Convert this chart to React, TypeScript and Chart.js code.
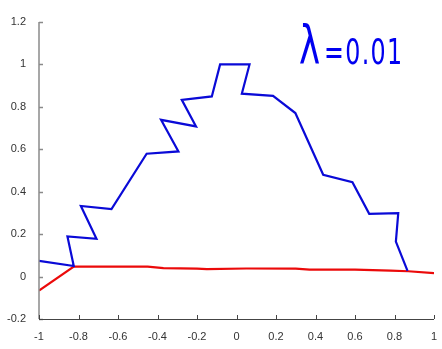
import React, { useEffect, useRef } from "react";
import { Chart, registerables } from "chart.js";

Chart.register(...registerables);

const blueX = [-1, -0.824, -0.856, -0.709, -0.788, -0.633, -0.455, -0.294, -0.382, -0.205, -0.277, -0.125, -0.083, 0.066, 0.027, 0.185, 0.298, 0.439, 0.587, 0.672, 0.819, 0.807, 0.866];
const blueY = [0.074, 0.05, 0.189, 0.178, 0.333, 0.318, 0.579, 0.59, 0.739, 0.708, 0.833, 0.849, 1.0, 1.0, 0.862, 0.852, 0.771, 0.48, 0.445, 0.296, 0.299, 0.165, 0.027];

const redX = [-1, -0.824, -0.45, -0.37, -0.2, -0.15, 0.05, 0.3, 0.37, 0.6, 0.78, 0.87, 1];
const redY = [-0.066, 0.047, 0.047, 0.04, 0.037, 0.035, 0.038, 0.037, 0.033, 0.033, 0.028, 0.025, 0.016];

const xTicks = [-1, -0.8, -0.6, -0.4, -0.2, 0, 0.2, 0.4, 0.6, 0.8, 1];
const yTicks = [-0.2, 0, 0.2, 0.4, 0.6, 0.8, 1, 1.2];

const annotationLambda = "λ";
const annotationValue = "=0.01";

const fmt = (v: number) => String(Number(v.toFixed(2)));

const axesPlugin = {
  id: "matlabAxes",
  afterDraw(chart: any) {
    const { ctx, chartArea, scales } = chart;
    const { left, bottom } = chartArea;
    ctx.save();
    ctx.strokeStyle = "#8a8a8a";
    ctx.lineWidth = 1.5;
    ctx.beginPath();
    ctx.moveTo(left, chartArea.top);
    ctx.lineTo(left, bottom);
    ctx.stroke();
    yTicks.forEach((v) => {
      const py = Math.round(scales.y.getPixelForValue(v)) + 0.5;
      ctx.beginPath();
      ctx.moveTo(left, py);
      ctx.lineTo(left + 4, py);
      ctx.stroke();
    });
    ctx.strokeStyle = "#444";
    ctx.lineWidth = 1;
    ctx.beginPath();
    ctx.moveTo(left, Math.round(bottom) + 0.5);
    ctx.lineTo(chartArea.right, Math.round(bottom) + 0.5);
    ctx.stroke();
    xTicks.forEach((v) => {
      const px = Math.round(scales.x.getPixelForValue(v)) + 0.5;
      ctx.beginPath();
      ctx.moveTo(px, bottom);
      ctx.lineTo(px, bottom - 4);
      ctx.stroke();
    });
    ctx.restore();
  },
};

export default function App() {
  const ref = useRef<HTMLCanvasElement | null>(null);

  useEffect(() => {
    if (!ref.current) return;
    const chart = new Chart(ref.current, {
      type: "scatter",
      data: {
        datasets: [
          {
            label: "blue",
            data: blueX.map((x, i) => ({ x, y: blueY[i] })),
            showLine: true,
            borderColor: "rgb(10,10,215)",
            borderWidth: 2.2,
            pointRadius: 0,
            tension: 0,
          },
          {
            label: "red",
            data: redX.map((x, i) => ({ x, y: redY[i] })),
            showLine: true,
            borderColor: "rgb(235,10,10)",
            borderWidth: 2.2,
            pointRadius: 0,
            tension: 0,
          },
        ],
      },
      options: {
        animation: false,
        responsive: true,
        maintainAspectRatio: false,
        layout: { padding: { left: 0, top: 22, right: 8, bottom: 0 } },
        plugins: { legend: { display: false }, tooltip: { enabled: false } },
        scales: {
          x: {
            type: "linear",
            min: -1,
            max: 1,
            afterBuildTicks: (s: any) => {
              s.ticks = xTicks.map((value) => ({ value }));
            },
            afterFit: (s: any) => {
              s.height = 30;
            },
            grid: { display: false },
            border: { display: false },
            ticks: {
              callback: (v: any) => fmt(Number(v)),
              color: "#333",
              padding: 3,
              maxRotation: 0,
              font: { family: "'Liberation Sans', Arial, sans-serif", size: 11 },
            },
          },
          y: {
            type: "linear",
            min: -0.2,
            max: 1.2,
            afterBuildTicks: (s: any) => {
              s.ticks = yTicks.map((value) => ({ value }));
            },
            afterFit: (s: any) => {
              s.width = 39;
            },
            grid: { display: false },
            border: { display: false },
            ticks: {
              callback: (v: any) => fmt(Number(v)),
              color: "#333",
              padding: 5,
              font: { family: "'Liberation Sans', Arial, sans-serif", size: 11 },
            },
          },
        },
      },
      plugins: [axesPlugin],
    });
    return () => chart.destroy();
  }, []);

  return (
    <div style={{ position: "fixed", left: 0, top: 0, width: 442, height: 349, background: "#fff" }}>
      <canvas ref={ref} />
      <div
        style={{
          position: "absolute",
          left: 299,
          top: 19,
          color: "#0000f0",
          fontFamily: "'DejaVu Sans', sans-serif",
          whiteSpace: "nowrap",
          transform: "scaleX(0.66)",
          transformOrigin: "left top",
          lineHeight: 1,
        }}
      >
        <span style={{ fontSize: 54 }}>{annotationLambda}</span>
        <span style={{ fontSize: 36, marginLeft: 6, letterSpacing: 2 }}>{annotationValue}</span>
      </div>
    </div>
  );
}
